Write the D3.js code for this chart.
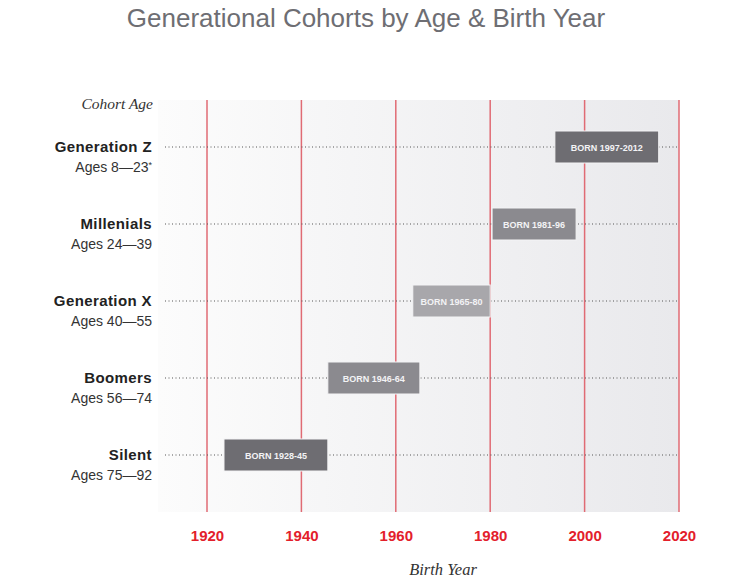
<!DOCTYPE html>
<html>
<head>
<meta charset="utf-8">
<script src="https://cdn.jsdelivr.net/npm/d3@7"></script>
<style>
  html, body { margin: 0; padding: 0; background: #ffffff; }
  svg { display: block; }
</style>
</head>
<body>
<svg id="chart" width="750" height="583"></svg>
<script>
// ---- data ----
const cohorts = ["Generation Z", "Millenials", "Generation X", "Boomers", "Silent"];
const ageLabels = ["Ages 8\u201423", "Ages 24\u201439", "Ages 40\u201455", "Ages 56\u201474", "Ages 75\u201492"];
const ageFootnote = ["*", "", "", "", ""];
const bornLabels = ["BORN 1997-2012", "BORN 1981-96", "BORN 1965-80", "BORN 1946-64", "BORN 1928-45"];
const barStart = [1993.7, 1980.4, 1963.6, 1945.6, 1923.6];
const barEnd = [2015.7, 1998.2, 1980.0, 1965.1, 1945.6];
const barShade = ["#6e6d72", "#8b8a8f", "#a8a7ab", "#8b8a8f", "#6e6d72"];
const yearTicks = [1920, 1940, 1960, 1980, 2000, 2020];

// ---- layout ----
const svg = d3.select("#chart");
const plot = { left: 158, right: 679, top: 100, bottom: 512 };

const x = d3.scaleLinear().domain([1920, 2020]).range([207, 679]);
const y = d3.scalePoint().domain(cohorts).range([147, 455]);
const barH = 32;

const defs = svg.append("defs");
const grad = defs.append("linearGradient").attr("id", "bg").attr("x1", "0").attr("x2", "1").attr("y1", "0").attr("y2", "0");
grad.append("stop").attr("offset", "0%").attr("stop-color", "#fcfcfc");
grad.append("stop").attr("offset", "100%").attr("stop-color", "#e9e9ec");

svg.append("rect")
  .attr("x", plot.left).attr("y", plot.top)
  .attr("width", plot.right - plot.left).attr("height", plot.bottom - plot.top)
  .attr("fill", "url(#bg)");

// title
svg.append("text")
  .attr("x", 366).attr("y", 27)
  .attr("text-anchor", "middle")
  .attr("font-family", "'Liberation Sans', Arial, sans-serif")
  .attr("font-size", 26)
  .attr("fill", "#6e6e73")
  .text("Generational Cohorts by Age & Birth Year");

// vertical red grid lines
svg.append("g").selectAll("line").data(yearTicks).join("line")
  .attr("x1", d => x(d)).attr("x2", d => x(d))
  .attr("y1", plot.top).attr("y2", plot.bottom)
  .attr("stroke", "#e06b74").attr("stroke-width", 1.5);

// dotted row guides
svg.append("g").selectAll("line").data(cohorts).join("line")
  .attr("x1", 165).attr("x2", x(2020))
  .attr("y1", d => y(d)).attr("y2", d => y(d))
  .attr("stroke", "#555").attr("stroke-width", 1)
  .attr("stroke-dasharray", "1,2.5");

// bars
const bars = svg.append("g").selectAll("g").data(cohorts).join("g");
bars.append("rect")
  .attr("x", (d, i) => x(barStart[i]))
  .attr("y", d => y(d) - barH / 2)
  .attr("width", (d, i) => x(barEnd[i]) - x(barStart[i]))
  .attr("height", barH)
  .attr("fill", (d, i) => barShade[i])
  .attr("stroke", "#f4f4f5").attr("stroke-width", 1);
bars.append("text")
  .attr("x", (d, i) => (x(barStart[i]) + x(barEnd[i])) / 2)
  .attr("y", d => y(d) + 3.5)
  .attr("text-anchor", "middle")
  .attr("font-family", "'Liberation Sans', Arial, sans-serif")
  .attr("font-weight", "bold")
  .attr("font-size", 9)
  .attr("fill", "#f3f3f5")
  .text((d, i) => bornLabels[i]);

// left labels
svg.append("text")
  .attr("x", 153).attr("y", 109)
  .attr("text-anchor", "end")
  .attr("font-family", "'Liberation Serif', 'DejaVu Serif', serif")
  .attr("font-style", "italic")
  .attr("font-size", 15.5)
  .attr("fill", "#333")
  .text("Cohort Age");

svg.append("g").selectAll("text").data(cohorts).join("text")
  .attr("x", 152).attr("y", d => y(d) + 5)
  .attr("text-anchor", "end")
  .attr("font-family", "'Liberation Sans', Arial, sans-serif")
  .attr("font-weight", "bold")
  .attr("font-size", 15)
  .attr("letter-spacing", 0.4)
  .attr("fill", "#222")
  .text(d => d);

const ages = svg.append("g").selectAll("text").data(cohorts).join("text")
  .attr("x", 152).attr("y", d => y(d) + 25)
  .attr("text-anchor", "end")
  .attr("font-family", "'Liberation Sans', Arial, sans-serif")
  .attr("font-size", 14)
  .attr("fill", "#333");
ages.append("tspan").text((d, i) => ageLabels[i]);
ages.append("tspan")
  .attr("font-size", 9).attr("dy", -4)
  .text((d, i) => ageFootnote[i]);

// x axis
const xAxis = d3.axisBottom(x).tickValues(yearTicks).tickFormat(d3.format("d")).tickSize(0).tickPadding(0);
const gx = svg.append("g").attr("transform", `translate(0, 530)`).call(xAxis);
gx.select(".domain").remove();
gx.selectAll("text")
  .attr("dy", "0.75em")
  .attr("font-family", "'Liberation Sans', Arial, sans-serif")
  .attr("font-weight", "bold")
  .attr("font-size", 15)
  .attr("fill", "#e3202b");

svg.append("text")
  .attr("x", (x(1920) + x(2020)) / 2).attr("y", 575)
  .attr("text-anchor", "middle")
  .attr("font-family", "'Liberation Serif', 'DejaVu Serif', serif")
  .attr("font-style", "italic")
  .attr("font-size", 16.5)
  .attr("fill", "#333")
  .text("Birth Year");
</script>
</body>
</html>
